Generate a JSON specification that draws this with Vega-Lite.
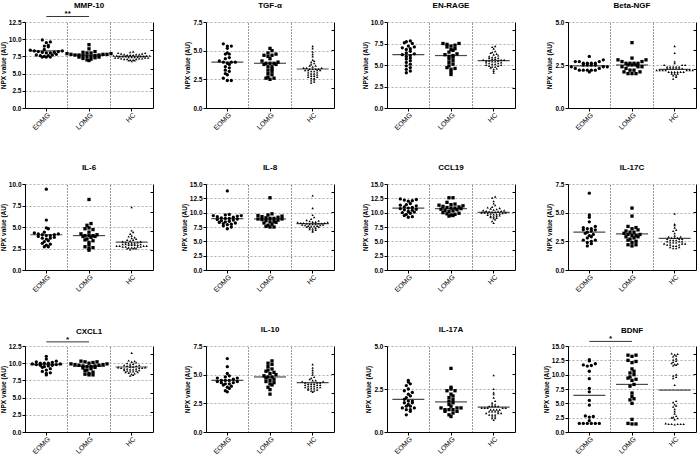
{
"$schema": "https://vega.github.io/schema/vega-lite/v6.json",
"background": "white",
"padding": {"left": 0, "top": 2, "right": 0, "bottom": 0},
"config": {
 "view": {"stroke": null},
 "font": "Liberation Sans",
 "axis": {"labelFont": "Liberation Sans", "titleFont": "Liberation Sans", "labelColor": "black", "titleColor": "black", "domainColor": "black", "tickColor": "black", "domainWidth": 1, "tickWidth": 1, "tickSize": 3, "labelFontSize": 6.5, "labelFontWeight": "bold", "titleFontSize": 6.5, "titleFontWeight": "bold", "gridColor": "#999", "gridDash": [2, 2], "gridWidth": 0.8, "labelPadding": 1, "titlePadding": 2},
 "axisX": {"labelFontSize": 7, "labelFontWeight": "normal", "labelPadding": 0},
 "title": {"font": "Liberation Sans", "fontSize": 8, "fontWeight": "bold", "color": "black", "offset": 9}
},
"datasets": {
"med": [
{"p":"MMP-10","g":"EOMG","v":8.3},{"p":"MMP-10","g":"LOMG","v":7.7},{"p":"MMP-10","g":"HC","v":7.5},
{"p":"TGF-α","g":"EOMG","v":4.0},{"p":"TGF-α","g":"LOMG","v":3.9},{"p":"TGF-α","g":"HC","v":3.4},
{"p":"EN-RAGE","g":"EOMG","v":6.2},{"p":"EN-RAGE","g":"LOMG","v":6.1},{"p":"EN-RAGE","g":"HC","v":5.5},
{"p":"Beta-NGF","g":"EOMG","v":2.45},{"p":"Beta-NGF","g":"LOMG","v":2.5},{"p":"Beta-NGF","g":"HC","v":2.25},
{"p":"IL-6","g":"EOMG","v":4.1},{"p":"IL-6","g":"LOMG","v":4.0},{"p":"IL-6","g":"HC","v":3.25},
{"p":"IL-8","g":"EOMG","v":8.95},{"p":"IL-8","g":"LOMG","v":8.9},{"p":"IL-8","g":"HC","v":8.1},
{"p":"CCL19","g":"EOMG","v":10.8},{"p":"CCL19","g":"LOMG","v":10.7},{"p":"CCL19","g":"HC","v":10.05},
{"p":"IL-17C","g":"EOMG","v":3.3},{"p":"IL-17C","g":"LOMG","v":3.15},{"p":"IL-17C","g":"HC","v":2.75},
{"p":"CXCL1","g":"EOMG","v":9.8},{"p":"CXCL1","g":"LOMG","v":9.55},{"p":"CXCL1","g":"HC","v":9.45},
{"p":"IL-10","g":"EOMG","v":4.5},{"p":"IL-10","g":"LOMG","v":4.8},{"p":"IL-10","g":"HC","v":4.3},
{"p":"IL-17A","g":"EOMG","v":1.9},{"p":"IL-17A","g":"LOMG","v":1.75},{"p":"IL-17A","g":"HC","v":1.45},
{"p":"BDNF","g":"EOMG","v":6.4},{"p":"BDNF","g":"LOMG","v":8.3},{"p":"BDNF","g":"HC","v":7.3}
],
"sig": [
{"p":"MMP-10","a":"EOMG","b":"LOMG","y":13.3,"t":"**"},
{"p":"CXCL1","a":"EOMG","b":"LOMG","y":13.1,"t":"*"},
{"p":"BDNF","a":"EOMG","b":"LOMG","y":15.8,"t":"*"}
],
"mmp10": [
{"g":"EOMG","v":9.9},{"g":"EOMG","v":9.6},{"g":"EOMG","v":9.5},{"g":"EOMG","v":9.1},{"g":"EOMG","v":9.0},{"g":"EOMG","v":8.9},{"g":"EOMG","v":8.5},{"g":"EOMG","v":8.4},{"g":"EOMG","v":8.3},{"g":"EOMG","v":8.3},{"g":"EOMG","v":8.2},{"g":"EOMG","v":8.2},{"g":"EOMG","v":8.1},{"g":"EOMG","v":8.1},{"g":"EOMG","v":8.0},{"g":"EOMG","v":8.0},{"g":"EOMG","v":7.8},{"g":"EOMG","v":7.7},{"g":"EOMG","v":7.7},{"g":"EOMG","v":7.6},{"g":"EOMG","v":7.6},{"g":"EOMG","v":7.5},{"g":"EOMG","v":7.4},{"g":"EOMG","v":7.4},{"g":"EOMG","v":7.4},
{"g":"LOMG","v":9.2},{"g":"LOMG","v":8.6},{"g":"LOMG","v":8.2},{"g":"LOMG","v":8.1},{"g":"LOMG","v":8.0},{"g":"LOMG","v":8.0},{"g":"LOMG","v":7.9},{"g":"LOMG","v":7.9},{"g":"LOMG","v":7.8},{"g":"LOMG","v":7.8},{"g":"LOMG","v":7.8},{"g":"LOMG","v":7.7},{"g":"LOMG","v":7.7},{"g":"LOMG","v":7.7},{"g":"LOMG","v":7.6},{"g":"LOMG","v":7.6},{"g":"LOMG","v":7.5},{"g":"LOMG","v":7.5},{"g":"LOMG","v":7.4},{"g":"LOMG","v":7.4},{"g":"LOMG","v":7.3},{"g":"LOMG","v":7.2},{"g":"LOMG","v":7.1},{"g":"LOMG","v":7.0},{"g":"LOMG","v":6.9},
{"g":"HC","v":8.2},{"g":"HC","v":8.1},{"g":"HC","v":8.0},{"g":"HC","v":8.0},{"g":"HC","v":7.9},{"g":"HC","v":7.9},{"g":"HC","v":7.8},{"g":"HC","v":7.8},{"g":"HC","v":7.8},{"g":"HC","v":7.7},{"g":"HC","v":7.7},{"g":"HC","v":7.7},{"g":"HC","v":7.6},{"g":"HC","v":7.6},{"g":"HC","v":7.6},{"g":"HC","v":7.6},{"g":"HC","v":7.5},{"g":"HC","v":7.5},{"g":"HC","v":7.5},{"g":"HC","v":7.5},{"g":"HC","v":7.5},{"g":"HC","v":7.4},{"g":"HC","v":7.4},{"g":"HC","v":7.4},{"g":"HC","v":7.4},{"g":"HC","v":7.3},{"g":"HC","v":7.3},{"g":"HC","v":7.3},{"g":"HC","v":7.3},{"g":"HC","v":7.2},{"g":"HC","v":7.2},{"g":"HC","v":7.2},{"g":"HC","v":7.1},{"g":"HC","v":7.1},{"g":"HC","v":7.1},{"g":"HC","v":7.0},{"g":"HC","v":7.0},{"g":"HC","v":6.9},{"g":"HC","v":6.9},{"g":"HC","v":6.8}
],
"tgfa": [
{"g":"EOMG","v":5.6},{"g":"EOMG","v":5.4},{"g":"EOMG","v":5.4},{"g":"EOMG","v":5.2},{"g":"EOMG","v":4.8},{"g":"EOMG","v":4.7},{"g":"EOMG","v":4.7},{"g":"EOMG","v":4.4},{"g":"EOMG","v":4.3},{"g":"EOMG","v":4.1},{"g":"EOMG","v":4.0},{"g":"EOMG","v":4.0},{"g":"EOMG","v":4.0},{"g":"EOMG","v":3.9},{"g":"EOMG","v":3.8},{"g":"EOMG","v":3.6},{"g":"EOMG","v":3.5},{"g":"EOMG","v":3.3},{"g":"EOMG","v":3.2},{"g":"EOMG","v":3.0},{"g":"EOMG","v":2.9},{"g":"EOMG","v":2.6},{"g":"EOMG","v":2.4},{"g":"EOMG","v":2.4},
{"g":"LOMG","v":5.2},{"g":"LOMG","v":5.0},{"g":"LOMG","v":4.8},{"g":"LOMG","v":4.7},{"g":"LOMG","v":4.6},{"g":"LOMG","v":4.6},{"g":"LOMG","v":4.5},{"g":"LOMG","v":4.3},{"g":"LOMG","v":4.1},{"g":"LOMG","v":4.0},{"g":"LOMG","v":3.9},{"g":"LOMG","v":3.9},{"g":"LOMG","v":3.9},{"g":"LOMG","v":3.8},{"g":"LOMG","v":3.8},{"g":"LOMG","v":3.6},{"g":"LOMG","v":3.6},{"g":"LOMG","v":3.4},{"g":"LOMG","v":3.3},{"g":"LOMG","v":3.2},{"g":"LOMG","v":3.0},{"g":"LOMG","v":2.9},{"g":"LOMG","v":2.7},{"g":"LOMG","v":2.6},{"g":"LOMG","v":2.6},{"g":"LOMG","v":2.5},
{"g":"HC","v":5.4},{"g":"HC","v":5.2},{"g":"HC","v":4.9},{"g":"HC","v":4.7},{"g":"HC","v":4.5},{"g":"HC","v":4.2},{"g":"HC","v":4.1},{"g":"HC","v":4.0},{"g":"HC","v":3.9},{"g":"HC","v":3.8},{"g":"HC","v":3.7},{"g":"HC","v":3.7},{"g":"HC","v":3.6},{"g":"HC","v":3.5},{"g":"HC","v":3.5},{"g":"HC","v":3.5},{"g":"HC","v":3.4},{"g":"HC","v":3.4},{"g":"HC","v":3.4},{"g":"HC","v":3.4},{"g":"HC","v":3.3},{"g":"HC","v":3.3},{"g":"HC","v":3.3},{"g":"HC","v":3.3},{"g":"HC","v":3.2},{"g":"HC","v":3.2},{"g":"HC","v":3.1},{"g":"HC","v":3.1},{"g":"HC","v":3.0},{"g":"HC","v":3.0},{"g":"HC","v":2.9},{"g":"HC","v":2.9},{"g":"HC","v":2.8},{"g":"HC","v":2.8},{"g":"HC","v":2.7},{"g":"HC","v":2.7},{"g":"HC","v":2.6},{"g":"HC","v":2.6},{"g":"HC","v":2.5},{"g":"HC","v":2.4},{"g":"HC","v":2.3},{"g":"HC","v":2.2}
],
"enrage": [
{"g":"EOMG","v":7.8},{"g":"EOMG","v":7.7},{"g":"EOMG","v":7.6},{"g":"EOMG","v":7.5},{"g":"EOMG","v":7.2},{"g":"EOMG","v":7.1},{"g":"EOMG","v":7.0},{"g":"EOMG","v":6.9},{"g":"EOMG","v":6.8},{"g":"EOMG","v":6.6},{"g":"EOMG","v":6.4},{"g":"EOMG","v":6.3},{"g":"EOMG","v":6.2},{"g":"EOMG","v":6.1},{"g":"EOMG","v":6.0},{"g":"EOMG","v":5.8},{"g":"EOMG","v":5.7},{"g":"EOMG","v":5.5},{"g":"EOMG","v":5.3},{"g":"EOMG","v":5.1},{"g":"EOMG","v":4.9},{"g":"EOMG","v":4.7},{"g":"EOMG","v":4.5},{"g":"EOMG","v":4.3},{"g":"EOMG","v":4.1},
{"g":"LOMG","v":7.5},{"g":"LOMG","v":7.5},{"g":"LOMG","v":7.4},{"g":"LOMG","v":7.3},{"g":"LOMG","v":7.2},{"g":"LOMG","v":7.1},{"g":"LOMG","v":6.9},{"g":"LOMG","v":6.8},{"g":"LOMG","v":6.7},{"g":"LOMG","v":6.5},{"g":"LOMG","v":6.3},{"g":"LOMG","v":6.2},{"g":"LOMG","v":6.1},{"g":"LOMG","v":6.0},{"g":"LOMG","v":5.9},{"g":"LOMG","v":5.7},{"g":"LOMG","v":5.5},{"g":"LOMG","v":5.3},{"g":"LOMG","v":5.1},{"g":"LOMG","v":4.9},{"g":"LOMG","v":4.7},{"g":"LOMG","v":4.6},{"g":"LOMG","v":4.5},{"g":"LOMG","v":4.2},{"g":"LOMG","v":3.9},
{"g":"HC","v":7.2},{"g":"HC","v":7.1},{"g":"HC","v":6.9},{"g":"HC","v":6.6},{"g":"HC","v":6.5},{"g":"HC","v":6.4},{"g":"HC","v":6.3},{"g":"HC","v":6.2},{"g":"HC","v":6.1},{"g":"HC","v":6.0},{"g":"HC","v":5.9},{"g":"HC","v":5.9},{"g":"HC","v":5.8},{"g":"HC","v":5.8},{"g":"HC","v":5.7},{"g":"HC","v":5.7},{"g":"HC","v":5.6},{"g":"HC","v":5.6},{"g":"HC","v":5.6},{"g":"HC","v":5.5},{"g":"HC","v":5.5},{"g":"HC","v":5.5},{"g":"HC","v":5.4},{"g":"HC","v":5.4},{"g":"HC","v":5.3},{"g":"HC","v":5.3},{"g":"HC","v":5.2},{"g":"HC","v":5.2},{"g":"HC","v":5.1},{"g":"HC","v":5.1},{"g":"HC","v":5.0},{"g":"HC","v":5.0},{"g":"HC","v":4.9},{"g":"HC","v":4.9},{"g":"HC","v":4.8},{"g":"HC","v":4.8},{"g":"HC","v":4.7},{"g":"HC","v":4.6},{"g":"HC","v":4.5},{"g":"HC","v":4.3},{"g":"HC","v":4.1}
],
"bngf": [
{"g":"EOMG","v":3.0},{"g":"EOMG","v":2.8},{"g":"EOMG","v":2.7},{"g":"EOMG","v":2.7},{"g":"EOMG","v":2.7},{"g":"EOMG","v":2.6},{"g":"EOMG","v":2.6},{"g":"EOMG","v":2.6},{"g":"EOMG","v":2.6},{"g":"EOMG","v":2.5},{"g":"EOMG","v":2.5},{"g":"EOMG","v":2.5},{"g":"EOMG","v":2.5},{"g":"EOMG","v":2.4},{"g":"EOMG","v":2.4},{"g":"EOMG","v":2.4},{"g":"EOMG","v":2.3},{"g":"EOMG","v":2.3},{"g":"EOMG","v":2.2},{"g":"EOMG","v":2.2},{"g":"EOMG","v":2.2},{"g":"EOMG","v":2.2},{"g":"EOMG","v":2.2},{"g":"EOMG","v":2.1},
{"g":"LOMG","v":3.8},{"g":"LOMG","v":2.9},{"g":"LOMG","v":2.8},{"g":"LOMG","v":2.8},{"g":"LOMG","v":2.7},{"g":"LOMG","v":2.7},{"g":"LOMG","v":2.6},{"g":"LOMG","v":2.6},{"g":"LOMG","v":2.6},{"g":"LOMG","v":2.6},{"g":"LOMG","v":2.5},{"g":"LOMG","v":2.5},{"g":"LOMG","v":2.5},{"g":"LOMG","v":2.4},{"g":"LOMG","v":2.4},{"g":"LOMG","v":2.4},{"g":"LOMG","v":2.3},{"g":"LOMG","v":2.2},{"g":"LOMG","v":2.2},{"g":"LOMG","v":2.1},{"g":"LOMG","v":2.1},{"g":"LOMG","v":2.0},{"g":"LOMG","v":2.0},{"g":"LOMG","v":2.0},
{"g":"HC","v":3.6},{"g":"HC","v":3.2},{"g":"HC","v":2.7},{"g":"HC","v":2.6},{"g":"HC","v":2.5},{"g":"HC","v":2.5},{"g":"HC","v":2.5},{"g":"HC","v":2.4},{"g":"HC","v":2.4},{"g":"HC","v":2.4},{"g":"HC","v":2.4},{"g":"HC","v":2.4},{"g":"HC","v":2.3},{"g":"HC","v":2.3},{"g":"HC","v":2.3},{"g":"HC","v":2.3},{"g":"HC","v":2.3},{"g":"HC","v":2.3},{"g":"HC","v":2.2},{"g":"HC","v":2.2},{"g":"HC","v":2.2},{"g":"HC","v":2.2},{"g":"HC","v":2.2},{"g":"HC","v":2.2},{"g":"HC","v":2.2},{"g":"HC","v":2.1},{"g":"HC","v":2.1},{"g":"HC","v":2.1},{"g":"HC","v":2.1},{"g":"HC","v":2.1},{"g":"HC","v":2.1},{"g":"HC","v":2.0},{"g":"HC","v":2.0},{"g":"HC","v":2.0},{"g":"HC","v":1.9},{"g":"HC","v":1.9},{"g":"HC","v":1.8},{"g":"HC","v":1.7}
],
"il6": [
{"g":"EOMG","v":9.4},{"g":"EOMG","v":5.8},{"g":"EOMG","v":4.9},{"g":"EOMG","v":4.8},{"g":"EOMG","v":4.4},{"g":"EOMG","v":4.3},{"g":"EOMG","v":4.2},{"g":"EOMG","v":4.2},{"g":"EOMG","v":4.1},{"g":"EOMG","v":4.1},{"g":"EOMG","v":4.0},{"g":"EOMG","v":4.0},{"g":"EOMG","v":3.9},{"g":"EOMG","v":3.8},{"g":"EOMG","v":3.7},{"g":"EOMG","v":3.7},{"g":"EOMG","v":3.6},{"g":"EOMG","v":3.4},{"g":"EOMG","v":3.3},{"g":"EOMG","v":3.1},{"g":"EOMG","v":3.0},{"g":"EOMG","v":2.9},{"g":"EOMG","v":2.7},{"g":"EOMG","v":2.7},
{"g":"LOMG","v":8.2},{"g":"LOMG","v":5.4},{"g":"LOMG","v":5.2},{"g":"LOMG","v":4.9},{"g":"LOMG","v":4.8},{"g":"LOMG","v":4.7},{"g":"LOMG","v":4.4},{"g":"LOMG","v":4.2},{"g":"LOMG","v":4.1},{"g":"LOMG","v":4.0},{"g":"LOMG","v":4.0},{"g":"LOMG","v":4.0},{"g":"LOMG","v":3.9},{"g":"LOMG","v":3.9},{"g":"LOMG","v":3.8},{"g":"LOMG","v":3.6},{"g":"LOMG","v":3.5},{"g":"LOMG","v":3.4},{"g":"LOMG","v":3.2},{"g":"LOMG","v":2.9},{"g":"LOMG","v":2.7},{"g":"LOMG","v":2.6},{"g":"LOMG","v":2.5},{"g":"LOMG","v":2.3},
{"g":"HC","v":7.3},{"g":"HC","v":4.6},{"g":"HC","v":4.4},{"g":"HC","v":4.2},{"g":"HC","v":4.0},{"g":"HC","v":3.9},{"g":"HC","v":3.8},{"g":"HC","v":3.7},{"g":"HC","v":3.6},{"g":"HC","v":3.5},{"g":"HC","v":3.5},{"g":"HC","v":3.4},{"g":"HC","v":3.3},{"g":"HC","v":3.3},{"g":"HC","v":3.2},{"g":"HC","v":3.2},{"g":"HC","v":3.1},{"g":"HC","v":3.1},{"g":"HC","v":3.1},{"g":"HC","v":3.0},{"g":"HC","v":3.0},{"g":"HC","v":3.0},{"g":"HC","v":2.9},{"g":"HC","v":2.9},{"g":"HC","v":2.9},{"g":"HC","v":2.9},{"g":"HC","v":2.8},{"g":"HC","v":2.8},{"g":"HC","v":2.8},{"g":"HC","v":2.8},{"g":"HC","v":2.7},{"g":"HC","v":2.7},{"g":"HC","v":2.7},{"g":"HC","v":2.7},{"g":"HC","v":2.6},{"g":"HC","v":2.6},{"g":"HC","v":2.6},{"g":"HC","v":2.5},{"g":"HC","v":2.5},{"g":"HC","v":2.5},{"g":"HC","v":2.4}
],
"il8": [
{"g":"EOMG","v":13.8},{"g":"EOMG","v":9.7},{"g":"EOMG","v":9.6},{"g":"EOMG","v":9.5},{"g":"EOMG","v":9.5},{"g":"EOMG","v":9.4},{"g":"EOMG","v":9.3},{"g":"EOMG","v":9.2},{"g":"EOMG","v":9.1},{"g":"EOMG","v":9.0},{"g":"EOMG","v":9.0},{"g":"EOMG","v":8.9},{"g":"EOMG","v":8.8},{"g":"EOMG","v":8.7},{"g":"EOMG","v":8.6},{"g":"EOMG","v":8.5},{"g":"EOMG","v":8.4},{"g":"EOMG","v":8.3},{"g":"EOMG","v":8.2},{"g":"EOMG","v":8.1},{"g":"EOMG","v":8.0},{"g":"EOMG","v":7.9},{"g":"EOMG","v":7.7},{"g":"EOMG","v":7.5},{"g":"EOMG","v":7.2},
{"g":"LOMG","v":12.6},{"g":"LOMG","v":9.8},{"g":"LOMG","v":9.6},{"g":"LOMG","v":9.5},{"g":"LOMG","v":9.4},{"g":"LOMG","v":9.3},{"g":"LOMG","v":9.2},{"g":"LOMG","v":9.1},{"g":"LOMG","v":9.0},{"g":"LOMG","v":9.0},{"g":"LOMG","v":8.9},{"g":"LOMG","v":8.9},{"g":"LOMG","v":8.8},{"g":"LOMG","v":8.7},{"g":"LOMG","v":8.6},{"g":"LOMG","v":8.5},{"g":"LOMG","v":8.4},{"g":"LOMG","v":8.3},{"g":"LOMG","v":8.2},{"g":"LOMG","v":8.0},{"g":"LOMG","v":7.8},{"g":"LOMG","v":7.6},{"g":"LOMG","v":7.5},{"g":"LOMG","v":7.5},
{"g":"HC","v":13.0},{"g":"HC","v":10.8},{"g":"HC","v":9.6},{"g":"HC","v":9.2},{"g":"HC","v":8.9},{"g":"HC","v":8.7},{"g":"HC","v":8.6},{"g":"HC","v":8.5},{"g":"HC","v":8.4},{"g":"HC","v":8.4},{"g":"HC","v":8.3},{"g":"HC","v":8.3},{"g":"HC","v":8.2},{"g":"HC","v":8.2},{"g":"HC","v":8.2},{"g":"HC","v":8.1},{"g":"HC","v":8.1},{"g":"HC","v":8.1},{"g":"HC","v":8.0},{"g":"HC","v":8.0},{"g":"HC","v":8.0},{"g":"HC","v":7.9},{"g":"HC","v":7.9},{"g":"HC","v":7.8},{"g":"HC","v":7.8},{"g":"HC","v":7.7},{"g":"HC","v":7.7},{"g":"HC","v":7.6},{"g":"HC","v":7.6},{"g":"HC","v":7.5},{"g":"HC","v":7.5},{"g":"HC","v":7.4},{"g":"HC","v":7.3},{"g":"HC","v":7.2},{"g":"HC","v":7.1},{"g":"HC","v":7.0},{"g":"HC","v":6.9},{"g":"HC","v":6.7}
],
"ccl19": [
{"g":"EOMG","v":12.4},{"g":"EOMG","v":12.3},{"g":"EOMG","v":12.2},{"g":"EOMG","v":12.1},{"g":"EOMG","v":12.0},{"g":"EOMG","v":11.6},{"g":"EOMG","v":11.4},{"g":"EOMG","v":11.3},{"g":"EOMG","v":11.2},{"g":"EOMG","v":11.0},{"g":"EOMG","v":10.9},{"g":"EOMG","v":10.8},{"g":"EOMG","v":10.7},{"g":"EOMG","v":10.6},{"g":"EOMG","v":10.5},{"g":"EOMG","v":10.4},{"g":"EOMG","v":10.2},{"g":"EOMG","v":10.1},{"g":"EOMG","v":10.0},{"g":"EOMG","v":9.9},{"g":"EOMG","v":9.7},{"g":"EOMG","v":9.5},{"g":"EOMG","v":9.3},{"g":"EOMG","v":9.2},
{"g":"LOMG","v":12.6},{"g":"LOMG","v":12.6},{"g":"LOMG","v":11.8},{"g":"LOMG","v":11.5},{"g":"LOMG","v":11.4},{"g":"LOMG","v":11.3},{"g":"LOMG","v":11.2},{"g":"LOMG","v":11.1},{"g":"LOMG","v":11.0},{"g":"LOMG","v":10.9},{"g":"LOMG","v":10.8},{"g":"LOMG","v":10.8},{"g":"LOMG","v":10.7},{"g":"LOMG","v":10.6},{"g":"LOMG","v":10.5},{"g":"LOMG","v":10.4},{"g":"LOMG","v":10.3},{"g":"LOMG","v":10.2},{"g":"LOMG","v":10.0},{"g":"LOMG","v":9.9},{"g":"LOMG","v":9.8},{"g":"LOMG","v":9.7},{"g":"LOMG","v":9.6},{"g":"LOMG","v":9.5},{"g":"LOMG","v":9.4},
{"g":"HC","v":12.8},{"g":"HC","v":12.6},{"g":"HC","v":12.0},{"g":"HC","v":11.6},{"g":"HC","v":11.3},{"g":"HC","v":11.0},{"g":"HC","v":10.9},{"g":"HC","v":10.8},{"g":"HC","v":10.7},{"g":"HC","v":10.6},{"g":"HC","v":10.5},{"g":"HC","v":10.4},{"g":"HC","v":10.4},{"g":"HC","v":10.3},{"g":"HC","v":10.3},{"g":"HC","v":10.2},{"g":"HC","v":10.2},{"g":"HC","v":10.1},{"g":"HC","v":10.1},{"g":"HC","v":10.0},{"g":"HC","v":10.0},{"g":"HC","v":10.0},{"g":"HC","v":9.9},{"g":"HC","v":9.9},{"g":"HC","v":9.8},{"g":"HC","v":9.8},{"g":"HC","v":9.7},{"g":"HC","v":9.7},{"g":"HC","v":9.6},{"g":"HC","v":9.5},{"g":"HC","v":9.4},{"g":"HC","v":9.4},{"g":"HC","v":9.3},{"g":"HC","v":9.2},{"g":"HC","v":9.1},{"g":"HC","v":9.0},{"g":"HC","v":8.8},{"g":"HC","v":8.5},{"g":"HC","v":8.2}
],
"il17c": [
{"g":"EOMG","v":6.7},{"g":"EOMG","v":4.8},{"g":"EOMG","v":4.6},{"g":"EOMG","v":4.2},{"g":"EOMG","v":3.8},{"g":"EOMG","v":3.7},{"g":"EOMG","v":3.6},{"g":"EOMG","v":3.6},{"g":"EOMG","v":3.5},{"g":"EOMG","v":3.5},{"g":"EOMG","v":3.4},{"g":"EOMG","v":3.3},{"g":"EOMG","v":3.2},{"g":"EOMG","v":3.1},{"g":"EOMG","v":3.0},{"g":"EOMG","v":2.9},{"g":"EOMG","v":2.8},{"g":"EOMG","v":2.6},{"g":"EOMG","v":2.6},{"g":"EOMG","v":2.5},{"g":"EOMG","v":2.4},{"g":"EOMG","v":2.3},{"g":"EOMG","v":2.1},
{"g":"LOMG","v":5.4},{"g":"LOMG","v":4.7},{"g":"LOMG","v":3.8},{"g":"LOMG","v":3.7},{"g":"LOMG","v":3.6},{"g":"LOMG","v":3.5},{"g":"LOMG","v":3.4},{"g":"LOMG","v":3.3},{"g":"LOMG","v":3.3},{"g":"LOMG","v":3.2},{"g":"LOMG","v":3.1},{"g":"LOMG","v":3.1},{"g":"LOMG","v":3.0},{"g":"LOMG","v":3.0},{"g":"LOMG","v":2.9},{"g":"LOMG","v":2.9},{"g":"LOMG","v":2.8},{"g":"LOMG","v":2.7},{"g":"LOMG","v":2.6},{"g":"LOMG","v":2.5},{"g":"LOMG","v":2.4},{"g":"LOMG","v":2.2},{"g":"LOMG","v":2.2},{"g":"LOMG","v":2.1},
{"g":"HC","v":4.9},{"g":"HC","v":4.0},{"g":"HC","v":3.9},{"g":"HC","v":3.7},{"g":"HC","v":3.5},{"g":"HC","v":3.4},{"g":"HC","v":3.2},{"g":"HC","v":3.0},{"g":"HC","v":2.9},{"g":"HC","v":2.9},{"g":"HC","v":2.8},{"g":"HC","v":2.8},{"g":"HC","v":2.8},{"g":"HC","v":2.7},{"g":"HC","v":2.7},{"g":"HC","v":2.7},{"g":"HC","v":2.6},{"g":"HC","v":2.6},{"g":"HC","v":2.6},{"g":"HC","v":2.5},{"g":"HC","v":2.5},{"g":"HC","v":2.5},{"g":"HC","v":2.4},{"g":"HC","v":2.4},{"g":"HC","v":2.4},{"g":"HC","v":2.3},{"g":"HC","v":2.3},{"g":"HC","v":2.3},{"g":"HC","v":2.2},{"g":"HC","v":2.2},{"g":"HC","v":2.2},{"g":"HC","v":2.1},{"g":"HC","v":2.1},{"g":"HC","v":2.0},{"g":"HC","v":2.0},{"g":"HC","v":1.9},{"g":"HC","v":1.9}
],
"cxcl1": [
{"g":"EOMG","v":11.0},{"g":"EOMG","v":10.6},{"g":"EOMG","v":10.3},{"g":"EOMG","v":10.2},{"g":"EOMG","v":10.1},{"g":"EOMG","v":10.0},{"g":"EOMG","v":10.0},{"g":"EOMG","v":10.0},{"g":"EOMG","v":9.9},{"g":"EOMG","v":9.9},{"g":"EOMG","v":9.8},{"g":"EOMG","v":9.8},{"g":"EOMG","v":9.7},{"g":"EOMG","v":9.7},{"g":"EOMG","v":9.6},{"g":"EOMG","v":9.5},{"g":"EOMG","v":9.4},{"g":"EOMG","v":9.2},{"g":"EOMG","v":9.0},{"g":"EOMG","v":8.8},{"g":"EOMG","v":8.6},{"g":"EOMG","v":8.5},{"g":"EOMG","v":8.3},
{"g":"LOMG","v":10.3},{"g":"LOMG","v":10.2},{"g":"LOMG","v":10.2},{"g":"LOMG","v":10.1},{"g":"LOMG","v":10.0},{"g":"LOMG","v":9.9},{"g":"LOMG","v":9.9},{"g":"LOMG","v":9.8},{"g":"LOMG","v":9.8},{"g":"LOMG","v":9.7},{"g":"LOMG","v":9.7},{"g":"LOMG","v":9.6},{"g":"LOMG","v":9.6},{"g":"LOMG","v":9.5},{"g":"LOMG","v":9.5},{"g":"LOMG","v":9.4},{"g":"LOMG","v":9.3},{"g":"LOMG","v":9.2},{"g":"LOMG","v":9.0},{"g":"LOMG","v":8.9},{"g":"LOMG","v":8.7},{"g":"LOMG","v":8.5},{"g":"LOMG","v":8.4},{"g":"LOMG","v":8.3},{"g":"LOMG","v":8.3},
{"g":"HC","v":11.5},{"g":"HC","v":10.4},{"g":"HC","v":10.3},{"g":"HC","v":10.2},{"g":"HC","v":10.1},{"g":"HC","v":10.0},{"g":"HC","v":9.9},{"g":"HC","v":9.8},{"g":"HC","v":9.7},{"g":"HC","v":9.7},{"g":"HC","v":9.6},{"g":"HC","v":9.6},{"g":"HC","v":9.5},{"g":"HC","v":9.5},{"g":"HC","v":9.4},{"g":"HC","v":9.4},{"g":"HC","v":9.3},{"g":"HC","v":9.3},{"g":"HC","v":9.3},{"g":"HC","v":9.2},{"g":"HC","v":9.2},{"g":"HC","v":9.2},{"g":"HC","v":9.1},{"g":"HC","v":9.1},{"g":"HC","v":9.0},{"g":"HC","v":9.0},{"g":"HC","v":8.9},{"g":"HC","v":8.9},{"g":"HC","v":8.8},{"g":"HC","v":8.8},{"g":"HC","v":8.7},{"g":"HC","v":8.7},{"g":"HC","v":8.6},{"g":"HC","v":8.5},{"g":"HC","v":8.4},{"g":"HC","v":8.3},{"g":"HC","v":8.2}
],
"il10": [
{"g":"EOMG","v":6.4},{"g":"EOMG","v":5.7},{"g":"EOMG","v":5.1},{"g":"EOMG","v":4.9},{"g":"EOMG","v":4.8},{"g":"EOMG","v":4.7},{"g":"EOMG","v":4.7},{"g":"EOMG","v":4.6},{"g":"EOMG","v":4.5},{"g":"EOMG","v":4.5},{"g":"EOMG","v":4.5},{"g":"EOMG","v":4.4},{"g":"EOMG","v":4.4},{"g":"EOMG","v":4.3},{"g":"EOMG","v":4.3},{"g":"EOMG","v":4.2},{"g":"EOMG","v":4.2},{"g":"EOMG","v":4.1},{"g":"EOMG","v":4.0},{"g":"EOMG","v":3.9},{"g":"EOMG","v":3.8},{"g":"EOMG","v":3.6},{"g":"EOMG","v":3.5},
{"g":"LOMG","v":6.2},{"g":"LOMG","v":6.0},{"g":"LOMG","v":5.9},{"g":"LOMG","v":5.7},{"g":"LOMG","v":5.5},{"g":"LOMG","v":5.4},{"g":"LOMG","v":5.3},{"g":"LOMG","v":5.2},{"g":"LOMG","v":5.1},{"g":"LOMG","v":5.0},{"g":"LOMG","v":4.9},{"g":"LOMG","v":4.8},{"g":"LOMG","v":4.8},{"g":"LOMG","v":4.7},{"g":"LOMG","v":4.6},{"g":"LOMG","v":4.5},{"g":"LOMG","v":4.4},{"g":"LOMG","v":4.3},{"g":"LOMG","v":4.2},{"g":"LOMG","v":4.1},{"g":"LOMG","v":3.9},{"g":"LOMG","v":3.7},{"g":"LOMG","v":3.3},
{"g":"HC","v":5.9},{"g":"HC","v":5.6},{"g":"HC","v":5.4},{"g":"HC","v":5.2},{"g":"HC","v":5.0},{"g":"HC","v":4.8},{"g":"HC","v":4.7},{"g":"HC","v":4.6},{"g":"HC","v":4.5},{"g":"HC","v":4.5},{"g":"HC","v":4.4},{"g":"HC","v":4.4},{"g":"HC","v":4.3},{"g":"HC","v":4.3},{"g":"HC","v":4.3},{"g":"HC","v":4.2},{"g":"HC","v":4.2},{"g":"HC","v":4.2},{"g":"HC","v":4.1},{"g":"HC","v":4.1},{"g":"HC","v":4.1},{"g":"HC","v":4.0},{"g":"HC","v":4.0},{"g":"HC","v":4.0},{"g":"HC","v":3.9},{"g":"HC","v":3.9},{"g":"HC","v":3.9},{"g":"HC","v":3.8},{"g":"HC","v":3.8},{"g":"HC","v":3.8},{"g":"HC","v":3.7},{"g":"HC","v":3.7},{"g":"HC","v":3.6},{"g":"HC","v":3.6},{"g":"HC","v":3.5}
],
"il17a": [
{"g":"EOMG","v":3.0},{"g":"EOMG","v":2.9},{"g":"EOMG","v":2.8},{"g":"EOMG","v":2.7},{"g":"EOMG","v":2.5},{"g":"EOMG","v":2.4},{"g":"EOMG","v":2.3},{"g":"EOMG","v":2.2},{"g":"EOMG","v":2.1},{"g":"EOMG","v":2.0},{"g":"EOMG","v":1.9},{"g":"EOMG","v":1.8},{"g":"EOMG","v":1.8},{"g":"EOMG","v":1.7},{"g":"EOMG","v":1.7},{"g":"EOMG","v":1.6},{"g":"EOMG","v":1.5},{"g":"EOMG","v":1.5},{"g":"EOMG","v":1.4},{"g":"EOMG","v":1.4},{"g":"EOMG","v":1.3},{"g":"EOMG","v":1.3},{"g":"EOMG","v":1.2},{"g":"EOMG","v":1.0},
{"g":"LOMG","v":3.7},{"g":"LOMG","v":2.6},{"g":"LOMG","v":2.5},{"g":"LOMG","v":2.4},{"g":"LOMG","v":2.4},{"g":"LOMG","v":2.2},{"g":"LOMG","v":2.1},{"g":"LOMG","v":2.0},{"g":"LOMG","v":1.9},{"g":"LOMG","v":1.8},{"g":"LOMG","v":1.7},{"g":"LOMG","v":1.6},{"g":"LOMG","v":1.5},{"g":"LOMG","v":1.4},{"g":"LOMG","v":1.4},{"g":"LOMG","v":1.4},{"g":"LOMG","v":1.3},{"g":"LOMG","v":1.3},{"g":"LOMG","v":1.3},{"g":"LOMG","v":1.2},{"g":"LOMG","v":1.2},{"g":"LOMG","v":1.1},{"g":"LOMG","v":1.0},{"g":"LOMG","v":0.9},
{"g":"HC","v":3.3},{"g":"HC","v":2.5},{"g":"HC","v":2.3},{"g":"HC","v":2.2},{"g":"HC","v":2.0},{"g":"HC","v":1.8},{"g":"HC","v":1.7},{"g":"HC","v":1.6},{"g":"HC","v":1.6},{"g":"HC","v":1.5},{"g":"HC","v":1.5},{"g":"HC","v":1.5},{"g":"HC","v":1.5},{"g":"HC","v":1.4},{"g":"HC","v":1.4},{"g":"HC","v":1.4},{"g":"HC","v":1.4},{"g":"HC","v":1.4},{"g":"HC","v":1.3},{"g":"HC","v":1.3},{"g":"HC","v":1.3},{"g":"HC","v":1.3},{"g":"HC","v":1.2},{"g":"HC","v":1.2},{"g":"HC","v":1.2},{"g":"HC","v":1.2},{"g":"HC","v":1.1},{"g":"HC","v":1.1},{"g":"HC","v":1.1},{"g":"HC","v":1.0},{"g":"HC","v":1.0},{"g":"HC","v":1.0},{"g":"HC","v":0.9},{"g":"HC","v":0.9},{"g":"HC","v":0.8},{"g":"HC","v":0.8},{"g":"HC","v":0.7}
],
"bdnf": [
{"g":"EOMG","v":12.6},{"g":"EOMG","v":12.4},{"g":"EOMG","v":11.9},{"g":"EOMG","v":11.7},{"g":"EOMG","v":11.6},{"g":"EOMG","v":11.5},{"g":"EOMG","v":10.6},{"g":"EOMG","v":9.3},{"g":"EOMG","v":7.6},{"g":"EOMG","v":7.0},{"g":"EOMG","v":5.5},{"g":"EOMG","v":4.7},{"g":"EOMG","v":2.8},{"g":"EOMG","v":2.7},{"g":"EOMG","v":2.6},{"g":"EOMG","v":2.0},{"g":"EOMG","v":1.5},{"g":"EOMG","v":1.5},{"g":"EOMG","v":1.5},{"g":"EOMG","v":1.5},{"g":"EOMG","v":1.5},{"g":"EOMG","v":1.5},
{"g":"LOMG","v":13.4},{"g":"LOMG","v":13.4},{"g":"LOMG","v":13.2},{"g":"LOMG","v":12.5},{"g":"LOMG","v":12.3},{"g":"LOMG","v":12.1},{"g":"LOMG","v":11.0},{"g":"LOMG","v":10.6},{"g":"LOMG","v":10.3},{"g":"LOMG","v":10.0},{"g":"LOMG","v":9.6},{"g":"LOMG","v":9.4},{"g":"LOMG","v":9.2},{"g":"LOMG","v":9.0},{"g":"LOMG","v":8.3},{"g":"LOMG","v":8.0},{"g":"LOMG","v":6.8},{"g":"LOMG","v":6.2},{"g":"LOMG","v":5.8},{"g":"LOMG","v":5.6},{"g":"LOMG","v":5.0},{"g":"LOMG","v":2.2},{"g":"LOMG","v":1.5},{"g":"LOMG","v":1.4},{"g":"LOMG","v":1.4},
{"g":"HC","v":13.7},{"g":"HC","v":13.6},{"g":"HC","v":13.5},{"g":"HC","v":13.3},{"g":"HC","v":13.2},{"g":"HC","v":12.8},{"g":"HC","v":12.6},{"g":"HC","v":12.4},{"g":"HC","v":12.2},{"g":"HC","v":12.0},{"g":"HC","v":11.9},{"g":"HC","v":11.8},{"g":"HC","v":11.7},{"g":"HC","v":11.6},{"g":"HC","v":10.0},{"g":"HC","v":9.8},{"g":"HC","v":9.6},{"g":"HC","v":9.4},{"g":"HC","v":8.2},{"g":"HC","v":5.4},{"g":"HC","v":5.2},{"g":"HC","v":4.8},{"g":"HC","v":4.6},{"g":"HC","v":4.4},{"g":"HC","v":4.0},{"g":"HC","v":3.6},{"g":"HC","v":3.2},{"g":"HC","v":2.8},{"g":"HC","v":2.6},{"g":"HC","v":2.5},{"g":"HC","v":2.4},{"g":"HC","v":2.2},{"g":"HC","v":1.5},{"g":"HC","v":1.4},{"g":"HC","v":1.4},{"g":"HC","v":1.4},{"g":"HC","v":1.4},{"g":"HC","v":1.4},{"g":"HC","v":1.3}
]
},
"spacing": 32,
"vconcat": [
{"bounds": "flush", "spacing": 53, "hconcat": [
{"title": {"text": "MMP-10", "offset": 0}, "width": 128, "height": 86,
 "layer": [
  {"data": {"name": "mmp10"},
   "transform": [{"calculate": "floor(datum.v / (datum.g == 'HC' ? 0.35 : 0.5))", "as": "bin"}, {"window": [{"op": "row_number", "as": "r"}, {"op": "count", "as": "n"}], "groupby": ["g", "bin"], "sort": [{"field": "v"}], "frame": [null, null]}, {"calculate": "((datum.r % 2 == 1 ? -1 : 1) * floor(datum.r / 2) - (datum.n % 2 == 0 ? 0.5 : 0)) * (datum.g == 'HC' ? 0.75 : 1)", "as": "off"}],
   "mark": {"type": "point", "filled": true, "color": "black", "opacity": 1, "strokeWidth": 0},
   "encoding": {
    "x": {"field": "g", "type": "nominal", "scale": {"type": "band", "domain": ["EOMG", "LOMG", "HC"], "paddingInner": 0, "paddingOuter": 0}, "axis": {"title": null, "labelAngle": -45, "grid": false}},
    "xOffset": {"field": "off", "type": "quantitative", "scale": {"domain": [-6, 6], "range": [-2.67, 45.33]}},
    "y": {"field": "v", "type": "quantitative", "scale": {"domain": [0, 12.5], "nice": false}, "axis": {"title": "NPX value (AU)", "values": [0, 2.5, 5, 7.5, 10, 12.5], "format": ".1f", "grid": true}},
    "shape": {"field": "g", "type": "nominal", "scale": {"domain": ["EOMG", "LOMG", "HC"], "range": ["circle", "square", "triangle-up"]}, "legend": null},
    "size": {"condition": {"test": "datum.g == 'HC'", "value": 6}, "value": 11}
   }},
  {"data": {"name": "med"}, "transform": [{"filter": "datum.p == 'MMP-10'"}],
   "mark": {"type": "tick", "color": "black", "thickness": 1.2, "size": 32},
   "encoding": {
    "x": {"field": "g", "type": "nominal", "scale": {"type": "band", "domain": ["EOMG", "LOMG", "HC"], "paddingInner": 0, "paddingOuter": 0}, "axis": {"title": null, "labels": false, "ticks": false, "domain": false, "grid": true, "bandPosition": 0, "gridDash": [1, 2], "gridColor": "#000"}},
    "y": {"field": "v", "type": "quantitative", "scale": {"domain": [0, 12.5], "nice": false}, "axis": {"orient": "right", "title": null, "labels": false, "grid": false, "values": [2.93, 5.69, 8.5, 11.28], "tickSize": -3}}
   }},
  {"data": {"name": "sig"}, "transform": [{"filter": "datum.p == 'MMP-10'"}],
   "mark": {"type": "rule", "color": "black", "strokeWidth": 0.8},
   "encoding": {"x": {"field": "a", "type": "nominal", "axis": null}, "x2": {"field": "b"}, "y": {"field": "y", "type": "quantitative", "axis": null}}},
  {"data": {"name": "sig"}, "transform": [{"filter": "datum.p == 'MMP-10'"}],
   "mark": {"type": "text", "baseline": "bottom", "fontSize": 8, "fontWeight": "bold", "dy": 2},
   "encoding": {"x": {"field": "b", "type": "nominal", "bandPosition": 0, "axis": null}, "y": {"field": "y", "type": "quantitative", "axis": null}, "text": {"field": "t"}}}
 ],
 "resolve": {"axis": {"x": "independent", "y": "independent"}}
},
{"title": "TGF-α", "width": 128, "height": 86,
 "layer": [
  {"data": {"name": "tgfa"},
   "transform": [{"calculate": "floor(datum.v / (datum.g == 'HC' ? 0.21 : 0.3))", "as": "bin"}, {"window": [{"op": "row_number", "as": "r"}, {"op": "count", "as": "n"}], "groupby": ["g", "bin"], "sort": [{"field": "v"}], "frame": [null, null]}, {"calculate": "((datum.r % 2 == 1 ? -1 : 1) * floor(datum.r / 2) - (datum.n % 2 == 0 ? 0.5 : 0)) * (datum.g == 'HC' ? 0.75 : 1)", "as": "off"}],
   "mark": {"type": "point", "filled": true, "color": "black", "opacity": 1, "strokeWidth": 0},
   "encoding": {
    "x": {"field": "g", "type": "nominal", "scale": {"type": "band", "domain": ["EOMG", "LOMG", "HC"], "paddingInner": 0, "paddingOuter": 0}, "axis": {"title": null, "labelAngle": -45, "grid": false}},
    "xOffset": {"field": "off", "type": "quantitative", "scale": {"domain": [-6, 6], "range": [-2.67, 45.33]}},
    "y": {"field": "v", "type": "quantitative", "scale": {"domain": [0, 7.5], "nice": false}, "axis": {"title": "NPX value (AU)", "values": [0, 2.5, 5, 7.5], "format": ".1f", "grid": true}},
    "shape": {"field": "g", "type": "nominal", "scale": {"domain": ["EOMG", "LOMG", "HC"], "range": ["circle", "square", "triangle-up"]}, "legend": null},
    "size": {"condition": {"test": "datum.g == 'HC'", "value": 6}, "value": 11}
   }},
  {"data": {"name": "med"}, "transform": [{"filter": "datum.p == 'TGF-α'"}],
   "mark": {"type": "tick", "color": "black", "thickness": 1.2, "size": 32},
   "encoding": {
    "x": {"field": "g", "type": "nominal", "scale": {"type": "band", "domain": ["EOMG", "LOMG", "HC"], "paddingInner": 0, "paddingOuter": 0}, "axis": {"title": null, "labels": false, "ticks": false, "domain": false, "grid": true, "bandPosition": 0, "gridDash": [1, 2], "gridColor": "#000"}},
    "y": {"field": "v", "type": "quantitative", "scale": {"domain": [0, 7.5], "nice": false}, "axis": {"orient": "right", "title": null, "labels": false, "grid": false, "values": [1.76, 3.41, 5.1, 6.77], "tickSize": -3}}
   }}
 ],
 "resolve": {"axis": {"x": "independent", "y": "independent"}}
},
{"title": "EN-RAGE", "width": 128, "height": 86,
 "layer": [
  {"data": {"name": "enrage"},
   "transform": [{"calculate": "floor(datum.v / (datum.g == 'HC' ? 0.28 : 0.4))", "as": "bin"}, {"window": [{"op": "row_number", "as": "r"}, {"op": "count", "as": "n"}], "groupby": ["g", "bin"], "sort": [{"field": "v"}], "frame": [null, null]}, {"calculate": "((datum.r % 2 == 1 ? -1 : 1) * floor(datum.r / 2) - (datum.n % 2 == 0 ? 0.5 : 0)) * (datum.g == 'HC' ? 0.75 : 1)", "as": "off"}],
   "mark": {"type": "point", "filled": true, "color": "black", "opacity": 1, "strokeWidth": 0},
   "encoding": {
    "x": {"field": "g", "type": "nominal", "scale": {"type": "band", "domain": ["EOMG", "LOMG", "HC"], "paddingInner": 0, "paddingOuter": 0}, "axis": {"title": null, "labelAngle": -45, "grid": false}},
    "xOffset": {"field": "off", "type": "quantitative", "scale": {"domain": [-6, 6], "range": [-2.67, 45.33]}},
    "y": {"field": "v", "type": "quantitative", "scale": {"domain": [0, 10], "nice": false}, "axis": {"title": "NPX value (AU)", "values": [0, 2.5, 5, 7.5, 10], "format": ".1f", "grid": true}},
    "shape": {"field": "g", "type": "nominal", "scale": {"domain": ["EOMG", "LOMG", "HC"], "range": ["circle", "square", "triangle-up"]}, "legend": null},
    "size": {"condition": {"test": "datum.g == 'HC'", "value": 6}, "value": 11}
   }},
  {"data": {"name": "med"}, "transform": [{"filter": "datum.p == 'EN-RAGE'"}],
   "mark": {"type": "tick", "color": "black", "thickness": 1.2, "size": 32},
   "encoding": {
    "x": {"field": "g", "type": "nominal", "scale": {"type": "band", "domain": ["EOMG", "LOMG", "HC"], "paddingInner": 0, "paddingOuter": 0}, "axis": {"title": null, "labels": false, "ticks": false, "domain": false, "grid": true, "bandPosition": 0, "gridDash": [1, 2], "gridColor": "#000"}},
    "y": {"field": "v", "type": "quantitative", "scale": {"domain": [0, 10], "nice": false}, "axis": {"orient": "right", "title": null, "labels": false, "grid": false, "values": [2.34, 4.55, 6.8, 9.02], "tickSize": -3}}
   }}
 ],
 "resolve": {"axis": {"x": "independent", "y": "independent"}}
},
{"title": "Beta-NGF", "width": 128, "height": 86,
 "layer": [
  {"data": {"name": "bngf"},
   "transform": [{"calculate": "floor(datum.v / (datum.g == 'HC' ? 0.14 : 0.2))", "as": "bin"}, {"window": [{"op": "row_number", "as": "r"}, {"op": "count", "as": "n"}], "groupby": ["g", "bin"], "sort": [{"field": "v"}], "frame": [null, null]}, {"calculate": "((datum.r % 2 == 1 ? -1 : 1) * floor(datum.r / 2) - (datum.n % 2 == 0 ? 0.5 : 0)) * (datum.g == 'HC' ? 0.75 : 1)", "as": "off"}],
   "mark": {"type": "point", "filled": true, "color": "black", "opacity": 1, "strokeWidth": 0},
   "encoding": {
    "x": {"field": "g", "type": "nominal", "scale": {"type": "band", "domain": ["EOMG", "LOMG", "HC"], "paddingInner": 0, "paddingOuter": 0}, "axis": {"title": null, "labelAngle": -45, "grid": false}},
    "xOffset": {"field": "off", "type": "quantitative", "scale": {"domain": [-6, 6], "range": [-2.67, 45.33]}},
    "y": {"field": "v", "type": "quantitative", "scale": {"domain": [0, 5], "nice": false}, "axis": {"title": "NPX value (AU)", "values": [0, 2.5, 5], "format": ".1f", "grid": true}},
    "shape": {"field": "g", "type": "nominal", "scale": {"domain": ["EOMG", "LOMG", "HC"], "range": ["circle", "square", "triangle-up"]}, "legend": null},
    "size": {"condition": {"test": "datum.g == 'HC'", "value": 6}, "value": 11}
   }},
  {"data": {"name": "med"}, "transform": [{"filter": "datum.p == 'Beta-NGF'"}],
   "mark": {"type": "tick", "color": "black", "thickness": 1.2, "size": 32},
   "encoding": {
    "x": {"field": "g", "type": "nominal", "scale": {"type": "band", "domain": ["EOMG", "LOMG", "HC"], "paddingInner": 0, "paddingOuter": 0}, "axis": {"title": null, "labels": false, "ticks": false, "domain": false, "grid": true, "bandPosition": 0, "gridDash": [1, 2], "gridColor": "#000"}},
    "y": {"field": "v", "type": "quantitative", "scale": {"domain": [0, 5], "nice": false}, "axis": {"orient": "right", "title": null, "labels": false, "grid": false, "values": [1.17, 2.28, 3.4, 4.51], "tickSize": -3}}
   }}
 ],
 "resolve": {"axis": {"x": "independent", "y": "independent"}}
}
]},
{"bounds": "flush", "spacing": 53, "hconcat": [
{"title": "IL-6", "width": 128, "height": 86,
 "layer": [
  {"data": {"name": "il6"},
   "transform": [{"calculate": "floor(datum.v / (datum.g == 'HC' ? 0.28 : 0.4))", "as": "bin"}, {"window": [{"op": "row_number", "as": "r"}, {"op": "count", "as": "n"}], "groupby": ["g", "bin"], "sort": [{"field": "v"}], "frame": [null, null]}, {"calculate": "((datum.r % 2 == 1 ? -1 : 1) * floor(datum.r / 2) - (datum.n % 2 == 0 ? 0.5 : 0)) * (datum.g == 'HC' ? 0.75 : 1)", "as": "off"}],
   "mark": {"type": "point", "filled": true, "color": "black", "opacity": 1, "strokeWidth": 0},
   "encoding": {
    "x": {"field": "g", "type": "nominal", "scale": {"type": "band", "domain": ["EOMG", "LOMG", "HC"], "paddingInner": 0, "paddingOuter": 0}, "axis": {"title": null, "labelAngle": -45, "grid": false}},
    "xOffset": {"field": "off", "type": "quantitative", "scale": {"domain": [-6, 6], "range": [-2.67, 45.33]}},
    "y": {"field": "v", "type": "quantitative", "scale": {"domain": [0, 10], "nice": false}, "axis": {"title": "NPX value (AU)", "values": [0, 2.5, 5, 7.5, 10], "format": ".1f", "grid": true}},
    "shape": {"field": "g", "type": "nominal", "scale": {"domain": ["EOMG", "LOMG", "HC"], "range": ["circle", "square", "triangle-up"]}, "legend": null},
    "size": {"condition": {"test": "datum.g == 'HC'", "value": 6}, "value": 11}
   }},
  {"data": {"name": "med"}, "transform": [{"filter": "datum.p == 'IL-6'"}],
   "mark": {"type": "tick", "color": "black", "thickness": 1.2, "size": 32},
   "encoding": {
    "x": {"field": "g", "type": "nominal", "scale": {"type": "band", "domain": ["EOMG", "LOMG", "HC"], "paddingInner": 0, "paddingOuter": 0}, "axis": {"title": null, "labels": false, "ticks": false, "domain": false, "grid": true, "bandPosition": 0, "gridDash": [1, 2], "gridColor": "#000"}},
    "y": {"field": "v", "type": "quantitative", "scale": {"domain": [0, 10], "nice": false}, "axis": {"orient": "right", "title": null, "labels": false, "grid": false, "values": [2.34, 4.55, 6.8, 9.02], "tickSize": -3}}
   }}
 ],
 "resolve": {"axis": {"x": "independent", "y": "independent"}}
},
{"title": "IL-8", "width": 128, "height": 86,
 "layer": [
  {"data": {"name": "il8"},
   "transform": [{"calculate": "floor(datum.v / (datum.g == 'HC' ? 0.42 : 0.6))", "as": "bin"}, {"window": [{"op": "row_number", "as": "r"}, {"op": "count", "as": "n"}], "groupby": ["g", "bin"], "sort": [{"field": "v"}], "frame": [null, null]}, {"calculate": "((datum.r % 2 == 1 ? -1 : 1) * floor(datum.r / 2) - (datum.n % 2 == 0 ? 0.5 : 0)) * (datum.g == 'HC' ? 0.75 : 1)", "as": "off"}],
   "mark": {"type": "point", "filled": true, "color": "black", "opacity": 1, "strokeWidth": 0},
   "encoding": {
    "x": {"field": "g", "type": "nominal", "scale": {"type": "band", "domain": ["EOMG", "LOMG", "HC"], "paddingInner": 0, "paddingOuter": 0}, "axis": {"title": null, "labelAngle": -45, "grid": false}},
    "xOffset": {"field": "off", "type": "quantitative", "scale": {"domain": [-6, 6], "range": [-2.67, 45.33]}},
    "y": {"field": "v", "type": "quantitative", "scale": {"domain": [0, 15], "nice": false}, "axis": {"title": "NPX value (AU)", "values": [0, 2.5, 5, 7.5, 10, 12.5, 15], "format": ".1f", "grid": true}},
    "shape": {"field": "g", "type": "nominal", "scale": {"domain": ["EOMG", "LOMG", "HC"], "range": ["circle", "square", "triangle-up"]}, "legend": null},
    "size": {"condition": {"test": "datum.g == 'HC'", "value": 6}, "value": 11}
   }},
  {"data": {"name": "med"}, "transform": [{"filter": "datum.p == 'IL-8'"}],
   "mark": {"type": "tick", "color": "black", "thickness": 1.2, "size": 32},
   "encoding": {
    "x": {"field": "g", "type": "nominal", "scale": {"type": "band", "domain": ["EOMG", "LOMG", "HC"], "paddingInner": 0, "paddingOuter": 0}, "axis": {"title": null, "labels": false, "ticks": false, "domain": false, "grid": true, "bandPosition": 0, "gridDash": [1, 2], "gridColor": "#000"}},
    "y": {"field": "v", "type": "quantitative", "scale": {"domain": [0, 15], "nice": false}, "axis": {"orient": "right", "title": null, "labels": false, "grid": false, "values": [3.51, 6.83, 10.2, 13.53], "tickSize": -3}}
   }}
 ],
 "resolve": {"axis": {"x": "independent", "y": "independent"}}
},
{"title": "CCL19", "width": 128, "height": 86,
 "layer": [
  {"data": {"name": "ccl19"},
   "transform": [{"calculate": "floor(datum.v / (datum.g == 'HC' ? 0.42 : 0.6))", "as": "bin"}, {"window": [{"op": "row_number", "as": "r"}, {"op": "count", "as": "n"}], "groupby": ["g", "bin"], "sort": [{"field": "v"}], "frame": [null, null]}, {"calculate": "((datum.r % 2 == 1 ? -1 : 1) * floor(datum.r / 2) - (datum.n % 2 == 0 ? 0.5 : 0)) * (datum.g == 'HC' ? 0.75 : 1)", "as": "off"}],
   "mark": {"type": "point", "filled": true, "color": "black", "opacity": 1, "strokeWidth": 0},
   "encoding": {
    "x": {"field": "g", "type": "nominal", "scale": {"type": "band", "domain": ["EOMG", "LOMG", "HC"], "paddingInner": 0, "paddingOuter": 0}, "axis": {"title": null, "labelAngle": -45, "grid": false}},
    "xOffset": {"field": "off", "type": "quantitative", "scale": {"domain": [-6, 6], "range": [-2.67, 45.33]}},
    "y": {"field": "v", "type": "quantitative", "scale": {"domain": [0, 15], "nice": false}, "axis": {"title": "NPX value (AU)", "values": [0, 2.5, 5, 7.5, 10, 12.5, 15], "format": ".1f", "grid": true}},
    "shape": {"field": "g", "type": "nominal", "scale": {"domain": ["EOMG", "LOMG", "HC"], "range": ["circle", "square", "triangle-up"]}, "legend": null},
    "size": {"condition": {"test": "datum.g == 'HC'", "value": 6}, "value": 11}
   }},
  {"data": {"name": "med"}, "transform": [{"filter": "datum.p == 'CCL19'"}],
   "mark": {"type": "tick", "color": "black", "thickness": 1.2, "size": 32},
   "encoding": {
    "x": {"field": "g", "type": "nominal", "scale": {"type": "band", "domain": ["EOMG", "LOMG", "HC"], "paddingInner": 0, "paddingOuter": 0}, "axis": {"title": null, "labels": false, "ticks": false, "domain": false, "grid": true, "bandPosition": 0, "gridDash": [1, 2], "gridColor": "#000"}},
    "y": {"field": "v", "type": "quantitative", "scale": {"domain": [0, 15], "nice": false}, "axis": {"orient": "right", "title": null, "labels": false, "grid": false, "values": [3.51, 6.83, 10.2, 13.53], "tickSize": -3}}
   }}
 ],
 "resolve": {"axis": {"x": "independent", "y": "independent"}}
},
{"title": "IL-17C", "width": 128, "height": 86,
 "layer": [
  {"data": {"name": "il17c"},
   "transform": [{"calculate": "floor(datum.v / (datum.g == 'HC' ? 0.21 : 0.3))", "as": "bin"}, {"window": [{"op": "row_number", "as": "r"}, {"op": "count", "as": "n"}], "groupby": ["g", "bin"], "sort": [{"field": "v"}], "frame": [null, null]}, {"calculate": "((datum.r % 2 == 1 ? -1 : 1) * floor(datum.r / 2) - (datum.n % 2 == 0 ? 0.5 : 0)) * (datum.g == 'HC' ? 0.75 : 1)", "as": "off"}],
   "mark": {"type": "point", "filled": true, "color": "black", "opacity": 1, "strokeWidth": 0},
   "encoding": {
    "x": {"field": "g", "type": "nominal", "scale": {"type": "band", "domain": ["EOMG", "LOMG", "HC"], "paddingInner": 0, "paddingOuter": 0}, "axis": {"title": null, "labelAngle": -45, "grid": false}},
    "xOffset": {"field": "off", "type": "quantitative", "scale": {"domain": [-6, 6], "range": [-2.67, 45.33]}},
    "y": {"field": "v", "type": "quantitative", "scale": {"domain": [0, 7.5], "nice": false}, "axis": {"title": "NPX value (AU)", "values": [0, 2.5, 5, 7.5], "format": ".1f", "grid": true}},
    "shape": {"field": "g", "type": "nominal", "scale": {"domain": ["EOMG", "LOMG", "HC"], "range": ["circle", "square", "triangle-up"]}, "legend": null},
    "size": {"condition": {"test": "datum.g == 'HC'", "value": 6}, "value": 11}
   }},
  {"data": {"name": "med"}, "transform": [{"filter": "datum.p == 'IL-17C'"}],
   "mark": {"type": "tick", "color": "black", "thickness": 1.2, "size": 32},
   "encoding": {
    "x": {"field": "g", "type": "nominal", "scale": {"type": "band", "domain": ["EOMG", "LOMG", "HC"], "paddingInner": 0, "paddingOuter": 0}, "axis": {"title": null, "labels": false, "ticks": false, "domain": false, "grid": true, "bandPosition": 0, "gridDash": [1, 2], "gridColor": "#000"}},
    "y": {"field": "v", "type": "quantitative", "scale": {"domain": [0, 7.5], "nice": false}, "axis": {"orient": "right", "title": null, "labels": false, "grid": false, "values": [1.76, 3.41, 5.1, 6.77], "tickSize": -3}}
   }}
 ],
 "resolve": {"axis": {"x": "independent", "y": "independent"}}
}
]},
{"bounds": "flush", "spacing": 53, "hconcat": [
{"title": {"text": "CXCL1", "offset": 0}, "width": 128, "height": 86,
 "layer": [
  {"data": {"name": "cxcl1"},
   "transform": [{"calculate": "floor(datum.v / (datum.g == 'HC' ? 0.35 : 0.5))", "as": "bin"}, {"window": [{"op": "row_number", "as": "r"}, {"op": "count", "as": "n"}], "groupby": ["g", "bin"], "sort": [{"field": "v"}], "frame": [null, null]}, {"calculate": "((datum.r % 2 == 1 ? -1 : 1) * floor(datum.r / 2) - (datum.n % 2 == 0 ? 0.5 : 0)) * (datum.g == 'HC' ? 0.75 : 1)", "as": "off"}],
   "mark": {"type": "point", "filled": true, "color": "black", "opacity": 1, "strokeWidth": 0},
   "encoding": {
    "x": {"field": "g", "type": "nominal", "scale": {"type": "band", "domain": ["EOMG", "LOMG", "HC"], "paddingInner": 0, "paddingOuter": 0}, "axis": {"title": null, "labelAngle": -45, "grid": false}},
    "xOffset": {"field": "off", "type": "quantitative", "scale": {"domain": [-6, 6], "range": [-2.67, 45.33]}},
    "y": {"field": "v", "type": "quantitative", "scale": {"domain": [0, 12.5], "nice": false}, "axis": {"title": "NPX value (AU)", "values": [0, 2.5, 5, 7.5, 10, 12.5], "format": ".1f", "grid": true}},
    "shape": {"field": "g", "type": "nominal", "scale": {"domain": ["EOMG", "LOMG", "HC"], "range": ["circle", "square", "triangle-up"]}, "legend": null},
    "size": {"condition": {"test": "datum.g == 'HC'", "value": 6}, "value": 11}
   }},
  {"data": {"name": "med"}, "transform": [{"filter": "datum.p == 'CXCL1'"}],
   "mark": {"type": "tick", "color": "black", "thickness": 1.2, "size": 32},
   "encoding": {
    "x": {"field": "g", "type": "nominal", "scale": {"type": "band", "domain": ["EOMG", "LOMG", "HC"], "paddingInner": 0, "paddingOuter": 0}, "axis": {"title": null, "labels": false, "ticks": false, "domain": false, "grid": true, "bandPosition": 0, "gridDash": [1, 2], "gridColor": "#000"}},
    "y": {"field": "v", "type": "quantitative", "scale": {"domain": [0, 12.5], "nice": false}, "axis": {"orient": "right", "title": null, "labels": false, "grid": false, "values": [2.93, 5.69, 8.5, 11.28], "tickSize": -3}}
   }},
  {"data": {"name": "sig"}, "transform": [{"filter": "datum.p == 'CXCL1'"}],
   "mark": {"type": "rule", "color": "black", "strokeWidth": 0.8},
   "encoding": {"x": {"field": "a", "type": "nominal", "axis": null}, "x2": {"field": "b"}, "y": {"field": "y", "type": "quantitative", "axis": null}}},
  {"data": {"name": "sig"}, "transform": [{"filter": "datum.p == 'CXCL1'"}],
   "mark": {"type": "text", "baseline": "bottom", "fontSize": 8, "fontWeight": "bold", "dy": 2},
   "encoding": {"x": {"field": "b", "type": "nominal", "bandPosition": 0, "axis": null}, "y": {"field": "y", "type": "quantitative", "axis": null}, "text": {"field": "t"}}}
 ],
 "resolve": {"axis": {"x": "independent", "y": "independent"}}
},
{"title": "IL-10", "width": 128, "height": 86,
 "layer": [
  {"data": {"name": "il10"},
   "transform": [{"calculate": "floor(datum.v / (datum.g == 'HC' ? 0.21 : 0.3))", "as": "bin"}, {"window": [{"op": "row_number", "as": "r"}, {"op": "count", "as": "n"}], "groupby": ["g", "bin"], "sort": [{"field": "v"}], "frame": [null, null]}, {"calculate": "((datum.r % 2 == 1 ? -1 : 1) * floor(datum.r / 2) - (datum.n % 2 == 0 ? 0.5 : 0)) * (datum.g == 'HC' ? 0.75 : 1)", "as": "off"}],
   "mark": {"type": "point", "filled": true, "color": "black", "opacity": 1, "strokeWidth": 0},
   "encoding": {
    "x": {"field": "g", "type": "nominal", "scale": {"type": "band", "domain": ["EOMG", "LOMG", "HC"], "paddingInner": 0, "paddingOuter": 0}, "axis": {"title": null, "labelAngle": -45, "grid": false}},
    "xOffset": {"field": "off", "type": "quantitative", "scale": {"domain": [-6, 6], "range": [-2.67, 45.33]}},
    "y": {"field": "v", "type": "quantitative", "scale": {"domain": [0, 7.5], "nice": false}, "axis": {"title": "NPX value (AU)", "values": [0, 2.5, 5, 7.5], "format": ".1f", "grid": true}},
    "shape": {"field": "g", "type": "nominal", "scale": {"domain": ["EOMG", "LOMG", "HC"], "range": ["circle", "square", "triangle-up"]}, "legend": null},
    "size": {"condition": {"test": "datum.g == 'HC'", "value": 6}, "value": 11}
   }},
  {"data": {"name": "med"}, "transform": [{"filter": "datum.p == 'IL-10'"}],
   "mark": {"type": "tick", "color": "black", "thickness": 1.2, "size": 32},
   "encoding": {
    "x": {"field": "g", "type": "nominal", "scale": {"type": "band", "domain": ["EOMG", "LOMG", "HC"], "paddingInner": 0, "paddingOuter": 0}, "axis": {"title": null, "labels": false, "ticks": false, "domain": false, "grid": true, "bandPosition": 0, "gridDash": [1, 2], "gridColor": "#000"}},
    "y": {"field": "v", "type": "quantitative", "scale": {"domain": [0, 7.5], "nice": false}, "axis": {"orient": "right", "title": null, "labels": false, "grid": false, "values": [1.76, 3.41, 5.1, 6.77], "tickSize": -3}}
   }}
 ],
 "resolve": {"axis": {"x": "independent", "y": "independent"}}
},
{"title": "IL-17A", "width": 128, "height": 86,
 "layer": [
  {"data": {"name": "il17a"},
   "transform": [{"calculate": "floor(datum.v / (datum.g == 'HC' ? 0.14 : 0.2))", "as": "bin"}, {"window": [{"op": "row_number", "as": "r"}, {"op": "count", "as": "n"}], "groupby": ["g", "bin"], "sort": [{"field": "v"}], "frame": [null, null]}, {"calculate": "((datum.r % 2 == 1 ? -1 : 1) * floor(datum.r / 2) - (datum.n % 2 == 0 ? 0.5 : 0)) * (datum.g == 'HC' ? 0.75 : 1)", "as": "off"}],
   "mark": {"type": "point", "filled": true, "color": "black", "opacity": 1, "strokeWidth": 0},
   "encoding": {
    "x": {"field": "g", "type": "nominal", "scale": {"type": "band", "domain": ["EOMG", "LOMG", "HC"], "paddingInner": 0, "paddingOuter": 0}, "axis": {"title": null, "labelAngle": -45, "grid": false}},
    "xOffset": {"field": "off", "type": "quantitative", "scale": {"domain": [-6, 6], "range": [-2.67, 45.33]}},
    "y": {"field": "v", "type": "quantitative", "scale": {"domain": [0, 5], "nice": false}, "axis": {"title": "NPX value (AU)", "values": [0, 2.5, 5], "format": ".1f", "grid": true}},
    "shape": {"field": "g", "type": "nominal", "scale": {"domain": ["EOMG", "LOMG", "HC"], "range": ["circle", "square", "triangle-up"]}, "legend": null},
    "size": {"condition": {"test": "datum.g == 'HC'", "value": 6}, "value": 11}
   }},
  {"data": {"name": "med"}, "transform": [{"filter": "datum.p == 'IL-17A'"}],
   "mark": {"type": "tick", "color": "black", "thickness": 1.2, "size": 32},
   "encoding": {
    "x": {"field": "g", "type": "nominal", "scale": {"type": "band", "domain": ["EOMG", "LOMG", "HC"], "paddingInner": 0, "paddingOuter": 0}, "axis": {"title": null, "labels": false, "ticks": false, "domain": false, "grid": true, "bandPosition": 0, "gridDash": [1, 2], "gridColor": "#000"}},
    "y": {"field": "v", "type": "quantitative", "scale": {"domain": [0, 5], "nice": false}, "axis": {"orient": "right", "title": null, "labels": false, "grid": false, "values": [1.17, 2.28, 3.4, 4.51], "tickSize": -3}}
   }}
 ],
 "resolve": {"axis": {"x": "independent", "y": "independent"}}
},
{"title": {"text": "BDNF", "offset": 0}, "width": 128, "height": 86,
 "layer": [
  {"data": {"name": "bdnf"},
   "transform": [{"calculate": "floor(datum.v / (datum.g == 'HC' ? 0.42 : 0.6))", "as": "bin"}, {"window": [{"op": "row_number", "as": "r"}, {"op": "count", "as": "n"}], "groupby": ["g", "bin"], "sort": [{"field": "v"}], "frame": [null, null]}, {"calculate": "((datum.r % 2 == 1 ? -1 : 1) * floor(datum.r / 2) - (datum.n % 2 == 0 ? 0.5 : 0)) * (datum.g == 'HC' ? 0.75 : 1)", "as": "off"}],
   "mark": {"type": "point", "filled": true, "color": "black", "opacity": 1, "strokeWidth": 0},
   "encoding": {
    "x": {"field": "g", "type": "nominal", "scale": {"type": "band", "domain": ["EOMG", "LOMG", "HC"], "paddingInner": 0, "paddingOuter": 0}, "axis": {"title": null, "labelAngle": -45, "grid": false}},
    "xOffset": {"field": "off", "type": "quantitative", "scale": {"domain": [-6, 6], "range": [-2.67, 45.33]}},
    "y": {"field": "v", "type": "quantitative", "scale": {"domain": [0, 15], "nice": false}, "axis": {"title": "NPX value (AU)", "values": [0, 2.5, 5, 7.5, 10, 12.5, 15], "format": ".1f", "grid": true}},
    "shape": {"field": "g", "type": "nominal", "scale": {"domain": ["EOMG", "LOMG", "HC"], "range": ["circle", "square", "triangle-up"]}, "legend": null},
    "size": {"condition": {"test": "datum.g == 'HC'", "value": 6}, "value": 11}
   }},
  {"data": {"name": "med"}, "transform": [{"filter": "datum.p == 'BDNF'"}],
   "mark": {"type": "tick", "color": "black", "thickness": 1.2, "size": 32},
   "encoding": {
    "x": {"field": "g", "type": "nominal", "scale": {"type": "band", "domain": ["EOMG", "LOMG", "HC"], "paddingInner": 0, "paddingOuter": 0}, "axis": {"title": null, "labels": false, "ticks": false, "domain": false, "grid": true, "bandPosition": 0, "gridDash": [1, 2], "gridColor": "#000"}},
    "y": {"field": "v", "type": "quantitative", "scale": {"domain": [0, 15], "nice": false}, "axis": {"orient": "right", "title": null, "labels": false, "grid": false, "values": [3.51, 6.83, 10.2, 13.53], "tickSize": -3}}
   }},
  {"data": {"name": "sig"}, "transform": [{"filter": "datum.p == 'BDNF'"}],
   "mark": {"type": "rule", "color": "black", "strokeWidth": 0.8},
   "encoding": {"x": {"field": "a", "type": "nominal", "axis": null}, "x2": {"field": "b"}, "y": {"field": "y", "type": "quantitative", "axis": null}}},
  {"data": {"name": "sig"}, "transform": [{"filter": "datum.p == 'BDNF'"}],
   "mark": {"type": "text", "baseline": "bottom", "fontSize": 8, "fontWeight": "bold", "dy": 2},
   "encoding": {"x": {"field": "b", "type": "nominal", "bandPosition": 0, "axis": null}, "y": {"field": "y", "type": "quantitative", "axis": null}, "text": {"field": "t"}}}
 ],
 "resolve": {"axis": {"x": "independent", "y": "independent"}}
}
]}
]
}
